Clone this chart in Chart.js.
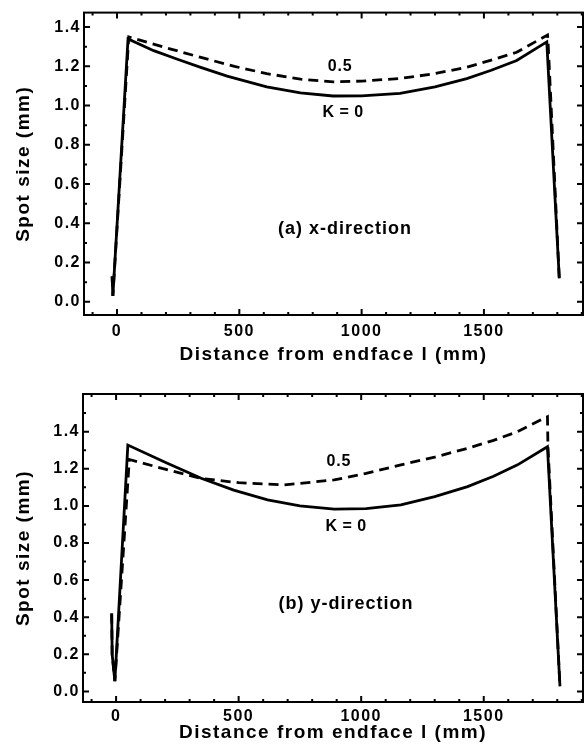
<!DOCTYPE html>
<html>
<head>
<meta charset="utf-8">
<script src="https://cdn.jsdelivr.net/npm/chart.js@4.4.1/dist/chart.umd.min.js"></script>
<style>
  html, body { margin: 0; padding: 0; background: #fff; }
  #wrap { position: relative; width: 586px; height: 752px; overflow: hidden; }
  canvas { position: absolute; left: 0; }
</style>
</head>
<body>
<div id="wrap">
  <canvas id="c1" width="586" height="372" style="top:0px"></canvas>
  <canvas id="c2" width="586" height="372" style="top:380px"></canvas>
</div>
<script>
// ---------- data ----------
const xTickValues = [0, 500, 1000, 1500];
const yTickValues = [0.0, 0.2, 0.4, 0.6, 0.8, 1.0, 1.2, 1.4];

// (a) x-direction, K = 0 (solid)
const aSolidX = [-20, -17, 45, 150, 250, 339, 450, 612, 750, 883, 1000, 1157, 1300, 1430, 1530, 1634, 1757, 1808];
const aSolidY = [0.13, 0.03, 1.34, 1.28, 1.235, 1.196, 1.15, 1.096, 1.065, 1.049, 1.05, 1.062, 1.095, 1.138, 1.18, 1.23, 1.325, 0.12];
// (a) x-direction, K = 0.5 (dashed)
const aDashX = [-20, -17, 48, 200, 339, 480, 612, 750, 884, 1000, 1157, 1300, 1430, 1530, 1634, 1760, 1762, 1808];
const aDashY = [0.13, 0.03, 1.35, 1.295, 1.247, 1.2, 1.163, 1.135, 1.121, 1.125, 1.138, 1.163, 1.196, 1.232, 1.272, 1.36, 1.33, 0.12];

// (b) y-direction, K = 0 (solid)
const bSolidX = [-18, -16, -5, 48, 200, 347, 480, 618, 750, 890, 1020, 1162, 1300, 1434, 1540, 1638, 1760, 1811];
const bSolidY = [0.42, 0.2, 0.055, 1.328, 1.235, 1.149, 1.085, 1.032, 1.0, 0.982, 0.985, 1.005, 1.05, 1.104, 1.16, 1.221, 1.319, 0.027];
// (b) y-direction, K = 0.5 (dashed)
const bDashX = [-18, -16, -5, 54, 211, 347, 500, 685, 890, 1020, 1162, 1300, 1434, 1540, 1638, 1760, 1762, 1811];
const bDashY = [0.42, 0.2, 0.055, 1.25, 1.194, 1.148, 1.125, 1.113, 1.14, 1.175, 1.221, 1.263, 1.31, 1.353, 1.40, 1.481, 1.32, 0.027];

const FONT = "'Liberation Sans', Arial, Helvetica, sans-serif";

function pts(xs, ys) { return xs.map((x, i) => ({ x: x, y: ys[i] })); }

const framePlugin = {
  id: 'frameTicks',
  beforeDraw(chart) { chart.ctx.letterSpacing = '1.5px'; },
  afterDraw(chart, args, opts) {
    const ctx = chart.ctx, a = chart.chartArea;
    const xs = chart.scales.x, ys = chart.scales.y;
    ctx.save();
    ctx.letterSpacing = '0px';
    ctx.strokeStyle = '#000';
    ctx.lineWidth = 2;
    ctx.strokeRect(a.left, a.top, a.right - a.left, a.bottom - a.top);
    ctx.lineWidth = 2;
    ctx.beginPath();
    for (let v = -100; v <= 1900; v += 100) {
      const px = xs.getPixelForValue(v);
      if (px <= a.left + 1 || px >= a.right - 1) continue;
      const len = (v % 500 === 0) ? 6 : 3;
      ctx.moveTo(px, a.bottom); ctx.lineTo(px, a.bottom - len);
      ctx.moveTo(px, a.top); ctx.lineTo(px, a.top + len);
    }
    for (let k = 0; k <= 16; k++) {
      const v = k / 10;
      const py = ys.getPixelForValue(v);
      if (py <= a.top + 1 || py >= a.bottom - 1) continue;
      const len = (k % 2 === 0) ? 6 : 3;
      ctx.moveTo(a.left, py); ctx.lineTo(a.left + len, py);
      ctx.moveTo(a.right, py); ctx.lineTo(a.right - len, py);
    }
    ctx.stroke();
    // annotations
    ctx.fillStyle = '#000';
    ctx.textAlign = 'center';
    ctx.textBaseline = 'middle';
    (opts.labels || []).forEach(l => {
      ctx.font = 'bold ' + l.size + 'px ' + FONT;
      ctx.letterSpacing = (l.sp || 0) + 'px';
      ctx.fillText(l.text, xs.getPixelForValue(l.x), ys.getPixelForValue(l.y));
    });
    ctx.restore();
  }
};

function makeChart(id, solid, dash, yMin, yMax, padTop, padLeftW, xAxisH, tickPad, titlePadB, labels) {
  return new Chart(document.getElementById(id), {
    type: 'scatter',
    data: {
      datasets: [
        { data: solid, showLine: true, borderColor: '#000', borderWidth: 2.8, pointRadius: 0, tension: 0, fill: false },
        { data: dash, showLine: true, borderColor: '#000', borderWidth: 2.8, borderDash: [10, 6], pointRadius: 0, tension: 0, fill: false }
      ]
    },
    options: {
      responsive: false,
      animation: false,
      devicePixelRatio: 1,
      layout: { padding: { top: padTop, right: 3, left: 0, bottom: 0 } },
      plugins: {
        legend: { display: false },
        tooltip: { enabled: false },
        frameTicks: { labels: labels }
      },
      scales: {
        x: {
          type: 'linear', min: -135, max: 1905,
          afterBuildTicks: s => { s.ticks = xTickValues.map(v => ({ value: v })); },
          afterFit: s => { s.height = xAxisH; },
          grid: { display: false, drawTicks: false },
          border: { display: false },
          ticks: { color: '#000', font: { family: FONT, size: 16, weight: 'bold' }, padding: tickPad, maxRotation: 0, callback: v => String(v) },
          title: { display: true, text: 'Distance from endface l (mm)', color: '#000', font: { family: FONT, size: 19, weight: 'bold' }, padding: { top: 2, bottom: titlePadB } }
        },
        y: {
          type: 'linear', min: yMin, max: yMax,
          afterBuildTicks: s => { s.ticks = yTickValues.map(v => ({ value: v })); },
          afterFit: s => { s.width = padLeftW; },
          grid: { display: false, drawTicks: false },
          border: { display: false },
          ticks: { color: '#000', font: { family: FONT, size: 16, weight: 'bold' }, padding: 3, callback: v => v.toFixed(1) },
          title: { display: true, text: 'Spot size (mm)', color: '#000', font: { family: FONT, size: 19, weight: 'bold' }, padding: { top: 12, bottom: 0 } }
        }
      }
    },
    plugins: [framePlugin]
  });
}

makeChart('c1', pts(aSolidX, aSolidY), pts(aDashX, aDashY), -0.067, 1.474, 8, 84, 57, 7, 5.6, [
  { text: '0.5', x: 912, y: 1.198, size: 16, sp: 0.8 },
  { text: 'K = 0', x: 924, y: 0.962, size: 16, sp: 0.5 },
  { text: '(a) x-direction', x: 932, y: 0.369, size: 18, sp: 1 }
]);
makeChart('c2', pts(bSolidX, bSolidY), pts(bDashX, bDashY), -0.057, 1.603, 14, 83, 50, 5, 7.6, [
  { text: '0.5', x: 909, y: 1.238, size: 16, sp: 0.8 },
  { text: 'K = 0', x: 938, y: 0.887, size: 16, sp: 0.5 },
  { text: '(b) y-direction', x: 938, y: 0.472, size: 18, sp: 1 }
]);
</script>
</body>
</html>
